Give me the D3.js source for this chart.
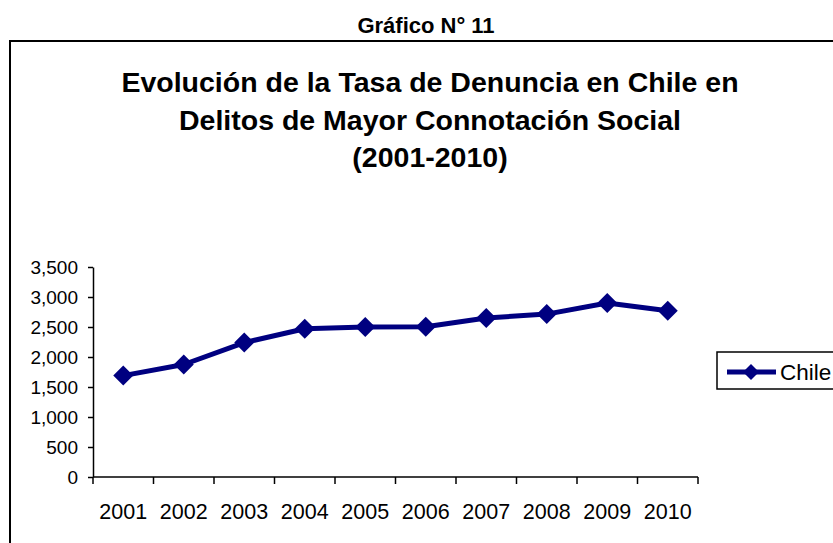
<!DOCTYPE html>
<html><head><meta charset="utf-8">
<script src="https://cdn.jsdelivr.net/npm/d3@7"></script>
<style>body{margin:0;background:#fff;} svg{display:block;font-family:"Liberation Sans",Arial,sans-serif;}</style>
</head><body>
<script>
const years = ["2001","2002","2003","2004","2005","2006","2007","2008","2009","2010"];
const chile = [1690, 1875, 2240, 2470, 2500, 2505, 2650, 2715, 2900, 2770];
const yTicks = [0,500,1000,1500,2000,2500,3000,3500];
const seriesName = "Chile";
const heading = "Gráfico N° 11";
const titleLines = ["Evolución de la Tasa de Denuncia en Chile en","Delitos de Mayor Connotación Social","(2001-2010)"];

const W=833,H=543;
const svg=d3.select("body").append("svg").attr("width",W).attr("height",H);
svg.append("rect").attr("width",W).attr("height",H).attr("fill","#fff");

svg.append("text").attr("x",426).attr("y",33).attr("text-anchor","middle")
  .attr("font-size",22).attr("font-weight","bold").text(heading);

// chart border
svg.append("path").attr("d",`M10,${H+5} V41 H${W+5}`).attr("fill","none").attr("stroke","#000").attr("stroke-width",2);

svg.selectAll(".tl").data(titleLines).enter().append("text")
  .attr("x",430).attr("y",(d,i)=>92+i*37.5).attr("text-anchor","middle")
  .attr("font-size",28.5).attr("font-weight","bold").text(d=>d);

const x=d3.scaleBand().domain(years).range([93,698]);
const y=d3.scaleLinear().domain([0,3500]).range([477,267]);

const ya=svg.append("g").attr("transform","translate(93,0)")
  .call(d3.axisLeft(y).tickValues(yTicks).tickFormat(d3.format(",")).tickSize(5).tickSizeOuter(0));
ya.select(".domain").attr("stroke","#000").attr("stroke-width",1.5);
ya.selectAll("line").attr("stroke","#000").attr("stroke-width",1.5);
ya.selectAll("text").attr("font-size",19).attr("fill","#000").attr("x",-15).attr("font-family","Liberation Sans, Arial, sans-serif");

const xa=svg.append("g").attr("transform","translate(0,477)");
xa.append("line").attr("x1",93).attr("x2",698).attr("stroke","#000").attr("stroke-width",1.5);
const edges=years.map(d=>x(d)).concat([698]);
xa.selectAll(".xt").data(edges).enter().append("line")
  .attr("x1",d=>d).attr("x2",d=>d).attr("y1",0).attr("y2",7).attr("stroke","#000").attr("stroke-width",1.5);
xa.selectAll(".xl").data(years).enter().append("text")
  .attr("x",d=>x(d)+x.bandwidth()/2).attr("y",42).attr("text-anchor","middle")
  .attr("font-size",21.5).attr("fill","#000").text(d=>d);

const cx=d=>x(d)+x.bandwidth()/2;
const line=d3.line().x((d,i)=>cx(years[i])).y(d=>y(d));
svg.append("path").datum(chile).attr("d",line).attr("fill","none").attr("stroke","#000080").attr("stroke-width",5).attr("stroke-linejoin","round");
const diamond=s=>`M0,${-s} L${s},0 L0,${s} L${-s},0 Z`;
svg.selectAll(".mk").data(chile).enter().append("path")
  .attr("transform",(d,i)=>`translate(${cx(years[i])},${y(d)})`)
  .attr("d",diamond(10)).attr("fill","#000080");

// legend
const lg=svg.append("g");
lg.append("rect").attr("x",717).attr("y",352).attr("width",130).attr("height",37).attr("fill","#fff").attr("stroke","#000").attr("stroke-width",1.5);
lg.append("line").attr("x1",727).attr("x2",776).attr("y1",372).attr("y2",372).attr("stroke","#000080").attr("stroke-width",5);
lg.append("path").attr("transform","translate(751,372)").attr("d",diamond(8)).attr("fill","#000080");
lg.append("text").attr("x",780).attr("y",380).attr("font-size",22.5).attr("fill","#000").text(seriesName);
</script>
</body></html>
